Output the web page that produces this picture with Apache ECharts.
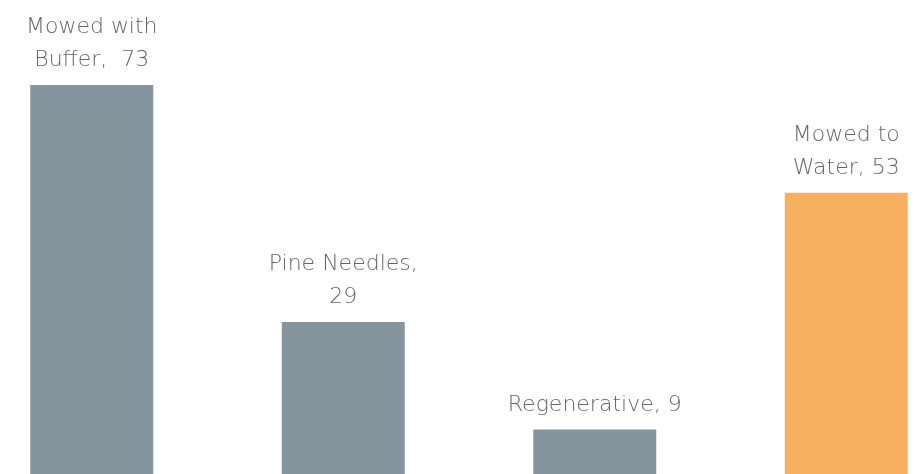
<!DOCTYPE html>
<html>
<head>
<meta charset="utf-8">
<script src="https://cdn.jsdelivr.net/npm/echarts@6/dist/echarts.min.js"></script>
<style>
  html, body { margin: 0; padding: 0; background: #fff; }
  #chart { width: 914px; height: 474px; }
</style>
</head>
<body>
<div id="chart"></div>
<script>
// data
const categories = ['Mowed with Buffer', 'Pine Needles', 'Regenerative', 'Mowed to Water']
const values = [73, 29, 9, 53]
// how each data label wraps
const labelLines = [
  ['Mowed with', 'Buffer,  73'],
  ['Pine Needles,', '29'],
  ['Regenerative, 9'],
  ['Mowed to', 'Water, 53']
]
const barColors = ['#84959e', '#84959e', '#84959e', '#f7b060']

const myEchart = echarts.init(document.getElementById('chart'))
const option = {
  animation: false,
  // the chart is cropped: first and last category run off the edge
  grid: {
    left: -34, right: -58, top: 0, bottom: -4,
    containLabel: false,
    outerBoundsMode: 'none'
  },
  xAxis: {
    type: 'category',
    data: categories,
    show: false
  },
  yAxis: {
    type: 'value',
    min: 0,
    max: 88.8,
    show: false
  },
  series: [{
    type: 'bar',
    barWidth: 123,
    data: values.map((v, i) => ({ value: v, itemStyle: { color: barColors[i] } })),
    label: {
      show: true,
      position: 'top',
      distance: 8,
      color: '#666666',
      fontFamily: 'DejaVu Sans',
      fontWeight: 200,
      fontSize: 22,
      lineHeight: 33,
      align: 'center',
      formatter: p => labelLines[p.dataIndex].join('\n')
    }
  }]
}
myEchart.setOption(option)
</script>
</body>
</html>
